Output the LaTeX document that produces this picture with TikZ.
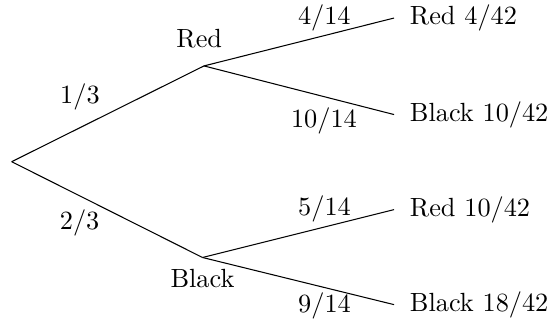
\documentclass[tikz,border=0pt]{standalone}
\usepackage{amsmath}
\usepackage{tikz}
\usetikzlibrary{positioning}

\begin{document}
\begin{tikzpicture}
        \useasboundingbox (-0.156,-2.222) rectangle (7.207,2.161);
        \tikzstyle{prob}=[inner sep=3.33pt]
        \coordinate (0) at (0,0);
        \coordinate (r) at (2.57,1.28);
        \coordinate (b) at (2.55,-1.28);
        \coordinate (rr) at (5.11,1.92);
        \coordinate (rb) at (5.11,0.63);
        \coordinate (br) at (5.11,-0.64);
        \coordinate (bb) at (5.11,-1.91);

        \node[above=3.4pt of r, xshift=-1.8pt] (rl) {Red};
        \node[below=0.9pt of b] (bl) {Black};

        \draw (0) -- node[prob, pos=0.355, above=3pt] (p1) {$1/3$} (r);
        \draw (0) -- node[prob, pos=0.356, below=1.9pt] (p2) {$2/3$} (b);

        \draw (r) -- node[prob, pos=0.633, above=-1.7pt] (p3) {$4/14$} (rr);
        \draw (r) -- node[prob, pos=0.631, below=0.8pt] (p4) {$10/14$} (rb);
        \draw (b) -- node[prob, pos=0.637, above=-1.8pt] (p5) {$5/14$} (br);
        \draw (b) -- node[prob, pos=0.637, below=-1.5pt] (p6) {$9/14$} (bb);

        \node[right=2.5pt of rr] (rrl) {Red $4/42$};
        \node[right=2.5pt of rb] (rbl) {Black $10/42$};
        \node[right=2.5pt of br] (brl) {Red $10/42$};
        \node[right=2.5pt of bb] (bbl) {Black $18/42$};
\end{tikzpicture}
\end{document}
